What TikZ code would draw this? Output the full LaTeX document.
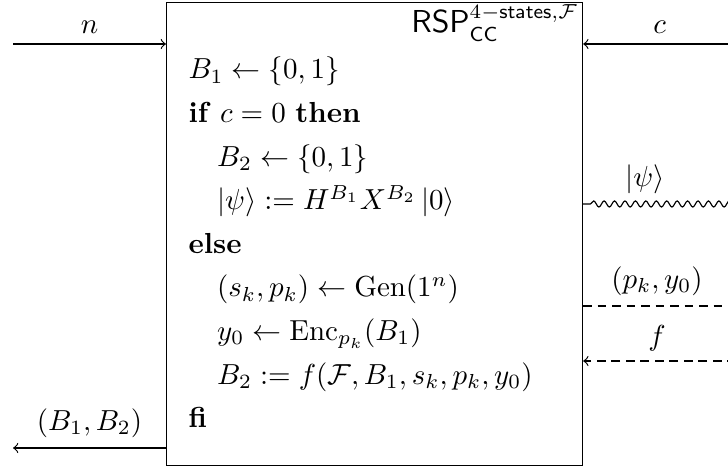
\documentclass[tikz,border=0pt]{standalone}
\usepackage{amsmath,amssymb}
\usetikzlibrary{decorations.pathmorphing}
\begin{document}
\begin{tikzpicture}[x=0.345pt,y=-0.345pt,
  lbl/.style={above, inner sep=3.33pt},
  codeline/.style={anchor=base west, inner sep=0pt},
  dwire/.style={dash pattern=on 3pt off 2pt},
  wavy/.style={decorate, decoration={snake, amplitude=1.05pt, segment length=3.6pt, pre length=2.5pt}},
]
\useasboundingbox (0,0) rectangle (728,467);
\clip (0,0) rectangle (728,467);
\node[draw, inner sep=0pt, minimum width=143.52pt, minimum height=159.74pt, anchor=north west] (box) at (166,2) {};
\node[anchor=base east, inner sep=0pt] (title) at (579,33) {\fontsize{10.6}{12}\selectfont$\mathsf{RSP}^{4-\mathsf{states},\mathcal{F}}_{\mathsf{CC}}$};
\node[codeline] (l1) at (188,79) {$B_1 \leftarrow \{0,1\}$};
\node[codeline] (l2) at (188,122.6) {\textbf{if} $c=0$ \textbf{then}};
\node[codeline] (l3) at (216.5,166.2) {$B_2 \leftarrow \{0,1\}$};
\node[codeline] (l4) at (216.5,209.8) {$\left\lvert\psi\right\rangle := H^{B_1}X^{B_2}\left\lvert 0\right\rangle$};
\node[codeline] (l5) at (188,253.4) {\textbf{else}};
\node[codeline] (l6) at (216.5,297) {$(s_k,p_k) \leftarrow \mathrm{Gen}(1^n)$};
\node[codeline] (l7) at (216.5,340.6) {$y_0 \leftarrow \mathrm{Enc}_{p_k}(B_1)$};
\node[codeline] (l8) at (216.5,384.2) {$B_2 := f(\mathcal{F},B_1,s_k,p_k,y_0)$};
\node[codeline] (l9) at (188,427.8) {\textbf{fi}};
% inputs / outputs
\coordinate (nin) at (13,44);
\draw[->] (nin) -- (nin -| box.west) node[midway,lbl] (nl) {$n$};
\coordinate (cin) at (736,44);
\draw[->] (cin) -- (cin -| box.east) node[midway,lbl] (cl) {$c$};
\coordinate (psiout) at (736,204);
\draw[wavy] (box.east |- psiout) -- (psiout);
\node[lbl] (psil) at (645,204) {$\left\lvert\psi\right\rangle$};
\coordinate (pkout) at (736,306);
\draw[dwire,->] (box.east |- pkout) -- (pkout);
\node[lbl] (pkl) at (657,306) {$(p_k,y_0)$};
\coordinate (fin) at (736,361);
\draw[dwire,->] (fin) -- (fin -| box.east);
\node[lbl] (fl) at (657,361) {$f$};
\coordinate (bout) at (13,448);
\draw[->] (box.west |- bout) -- (bout) node[midway,lbl] (bl) {$(B_1,B_2)$};
\end{tikzpicture}
\end{document}
